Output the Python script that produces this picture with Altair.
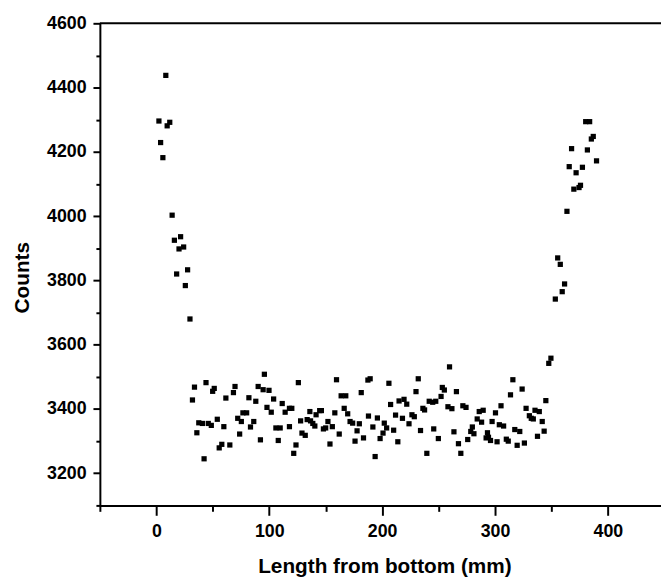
import altair as alt
import pandas as pd

# Length from bottom (mm)
x_mm = [
    # bottom end
    8.4, 2.3, 11.9, 9.6, 3.8, 5.8, 14.0, 21.5, 16.0, 20.1, 24.2, 27.7, 18.0, 25.7, 29.8,
    # top end
    380.3, 383.8, 387.0, 385.3, 367.8, 381.8, 389.9, 365.7, 371.8, 377.4, 375.7, 374.4,
    369.8, 363.7, 355.5, 357.8, 361.6, 359.5, 353.4, 349.5, 347.6,
    # flat middle part
    33.8, 44.0, 51.3, 49.9, 32.0, 61.6, 37.6, 40.8, 46.0, 48.7, 54.0, 59.8, 35.9, 58.0, 55.7, 42.3,
    95.7, 125.8, 159.6, 69.7, 68.3, 90.2, 94.6, 99.8, 82.0, 88.1, 103.9, 111.5, 98.0, 101.8,
    117.9, 120.0, 114.1, 163.7, 167.8, 181.5, 166.4, 169.5, 158.1, 136.0, 144.7, 146.2, 141.5,
    76.7, 80.0, 75.3, 72.1, 86.3, 83.4, 73.8, 92.2, 108.0, 105.9, 109.7, 117.9, 127.8, 133.6,
    136.6, 138.6, 140.4, 129.0, 131.9, 148.0, 150.0, 152.0, 155.9, 162.0, 171.6, 173.9, 179.8,
    177.8, 176.0, 183.5, 153.8, 123.7, 121.7, 65.1,
    259.7, 187.4, 189.4, 206.0, 232.0, 230.0, 253.3, 255.1, 265.8, 315.8, 324.0, 313.7, 345.0,
    207.5, 215.0, 219.4, 221.8, 241.7, 244.8, 247.5, 252.2, 236.1, 237.6, 258.3, 261.8, 271.5,
    274.3, 286.0, 289.5, 305.3, 300.4, 327.5, 335.4, 339.2, 330.4, 332.1, 333.9, 341.8, 187.9,
    195.8, 191.8, 201.9, 204.0, 200.8, 198.2, 210.2, 211.9, 218.0, 223.8, 226.4, 228.5, 213.9,
    193.8, 234.0, 245.7, 249.8, 239.6, 263.6, 267.6, 269.7, 275.8, 278.5, 279.9, 281.3, 284.2,
    288.1, 293.3, 294.2, 292.1, 296.0, 297.4, 303.8, 307.6, 301.8, 310.0, 311.7, 317.5, 321.9,
    319.6, 326.0, 337.6, 343.5,
]

counts = [
    4438, 4296, 4292, 4281, 4229, 4182, 4003, 3936, 3925, 3898, 3904, 3833, 3820, 3784, 3680,
    4294, 4294, 4248, 4240, 4210, 4206, 4172, 4154, 4135, 4152, 4096, 4089,
    4084, 4015, 3870, 3850, 3789, 3765, 3742, 3558, 3542,
    3468, 3482, 3464, 3455, 3428, 3434, 3357, 3355, 3355, 3349, 3368, 3345, 3326, 3290, 3279, 3245,
    3508, 3482, 3491, 3470, 3451, 3470, 3460, 3458, 3435, 3424, 3431, 3417, 3405, 3390,
    3402, 3402, 3390, 3441, 3441, 3451, 3402, 3385, 3388, 3392, 3395, 3395, 3382,
    3388, 3388, 3361, 3371, 3361, 3344, 3322, 3304, 3302, 3341, 3341, 3345, 3363, 3367,
    3363, 3355, 3347, 3325, 3318, 3338, 3341, 3361, 3345, 3322, 3361, 3356, 3354,
    3332, 3300, 3310, 3291, 3288, 3262, 3288,
    3531, 3490, 3494, 3480, 3494, 3454, 3467, 3459, 3454, 3491, 3462, 3444, 3426,
    3414, 3425, 3430, 3415, 3424, 3421, 3424, 3439, 3402, 3397, 3407, 3401, 3410,
    3405, 3392, 3396, 3410, 3388, 3402, 3396, 3392, 3379, 3371, 3369, 3361, 3378,
    3372, 3344, 3356, 3341, 3325, 3308, 3334, 3381, 3371, 3354, 3382, 3376, 3298,
    3252, 3333, 3338, 3308, 3262, 3329, 3292, 3262, 3305, 3330, 3344, 3323, 3369,
    3359, 3326, 3312, 3310, 3302, 3361, 3351, 3347, 3298, 3306, 3300, 3336, 3330,
    3287, 3294, 3315, 3331,
]

x_ticks = [-50, 0, 50, 100, 150, 200, 250, 300, 350, 400]
y_ticks = list(range(3100, 4601, 100))

df = pd.DataFrame({"x": x_mm, "y": counts})

W, H = 568, 488
FONT = "Liberation Sans"

points = alt.Chart(df).mark_square(size=28, color="black", opacity=1).encode(
    x=alt.X(
        "x:Q",
        scale=alt.Scale(domain=[-50, 447], nice=False, zero=False),
        axis=alt.Axis(
            title="Length from bottom (mm)",
            values=x_ticks,
            labelExpr="datum.value % 100 === 0 ? datum.label : ''",
            format="d",
            tickSize={"condition": {"test": "datum.value % 100 !== 0", "value": 6}, "value": 10},
            tickWidth=2,
            tickColor="black",
            domainColor="black",
            domainWidth=2,
            labelFont=FONT,
            labelFontSize=18,
            labelFontWeight="bold",
            labelColor="black",
            labelPadding=7,
            labelFlush=False,
            labelOverlap=False,
            labelBound=False,
            grid=False,
            titleFont=FONT,
            titleFontSize=21,
            titleFontWeight="bold",
            titleColor="black",
            titleX=288,
            titleY=68,
            titleAlign="center",
            titleBaseline="alphabetic",
        ),
    ),
    y=alt.Y(
        "y:Q",
        scale=alt.Scale(domain=[3100, 4600], nice=False, zero=False),
        axis=alt.Axis(
            title="Counts",
            values=y_ticks,
            labelExpr="datum.value % 200 === 0 ? datum.label : ''",
            format="d",
            tickSize={"condition": {"test": "datum.value % 200 !== 0", "value": 4}, "value": 7},
            tickWidth=2,
            tickColor="black",
            domainColor="black",
            domainWidth=2,
            labelFont=FONT,
            labelFontSize=18,
            labelFontWeight="bold",
            labelColor="black",
            labelPadding=7,
            labelFlush=False,
            labelOverlap=False,
            labelBound=False,
            grid=False,
            titleFont=FONT,
            titleFontSize=21,
            titleFontWeight="bold",
            titleColor="black",
            titleAngle=-90,
            titleX=-78,
            titleY=257,
            titleAlign="center",
            titleBaseline="middle",
        ),
    ),
)

top_border = alt.Chart(pd.DataFrame({"a": [0]})).mark_rule(color="black", strokeWidth=2).encode(
    x=alt.value(0), x2=alt.value(W), y=alt.value(0)
)

chart = (
    alt.layer(points, top_border)
    .properties(
        width=W,
        height=H,
        autosize=alt.AutoSizeParams(type="none"),
        padding={"left": 93, "top": 12, "right": 0, "bottom": 71},
        background="white",
    )
    .configure_view(strokeWidth=0)
)

chart.save("out.html", embed_options={"renderer": "svg", "actions": False})
